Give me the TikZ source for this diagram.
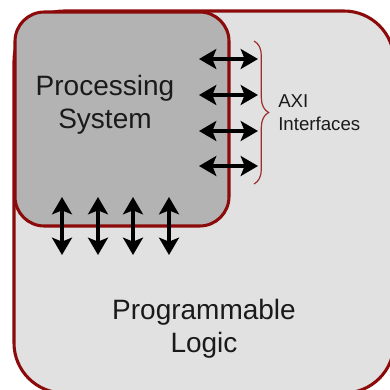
\documentclass[tikz,border=0pt]{standalone}
\usepackage{fontspec}
\setmainfont{Liberation Sans}
\usetikzlibrary{arrows.meta,decorations.pathreplacing}
\definecolor{frame}{HTML}{8B0A0A}
\definecolor{plfill}{HTML}{E1E1E1}
\definecolor{psfill}{HTML}{B3B3B3}
\definecolor{txt}{HTML}{1A1A1A}
\tikzset{
  block/.style={draw=frame, line width=2.3pt},
  bus/.style={line width=2.4pt, black, {Stealth[length=13pt,width=15pt,inset=3pt]}-{Stealth[length=13pt,width=15pt,inset=3pt]}},
  bigtext/.style={font=\fontsize{21}{24.75}\selectfont, text=txt, align=center, inner sep=0pt},
  smalltext/.style={font=\fontsize{14}{17.25}\selectfont, text=txt, align=left, inner sep=0pt},
  axibrace/.style={draw=frame!85!white, line width=0.9pt, decorate, decoration={brace, amplitude=11pt}}
}
\begin{document}
\begin{tikzpicture}[x=0.75pt,y=-0.75pt]
\useasboundingbox (0,0) rectangle (390,390);
\fill[white] (0,0) rectangle (390,390);
\begin{scope}
\clip (0,0) rectangle (390,390);
\draw[block, fill=plfill, rounded corners=37.5pt] (14,11) rectangle (394,393);
\draw[block, fill=psfill, rounded corners=22pt] (15,12) rectangle (229,226);
\end{scope}
\node[bigtext] (ps) at (105,104.5) {Processing\\System};
\node[bigtext] (pl) at (204,329) {Programmable\\Logic};
% horizontal AXI buses
\foreach \i/\y in {1/59,2/95,3/131,4/166}{
  \coordinate (hl\i) at (199,\y);
  \coordinate (hr\i) at (258,\y);
  \draw[bus] (hl\i) -- (hr\i);
}
% vertical buses
\foreach \i/\x in {1/62,2/98,3/133,4/169}{
  \coordinate (vt\i) at (\x,197);
  \coordinate (vb\i) at (\x,255);
  \draw[bus] (vt\i) -- (vb\i);
}
\coordinate (bt) at (254,41);
\coordinate (bb) at (254,184);
\draw[axibrace] (bt) -- (bb);
\node[smalltext, anchor=west] (axi) at (278,113) {AXI\\Interfaces};
\end{tikzpicture}
\end{document}
